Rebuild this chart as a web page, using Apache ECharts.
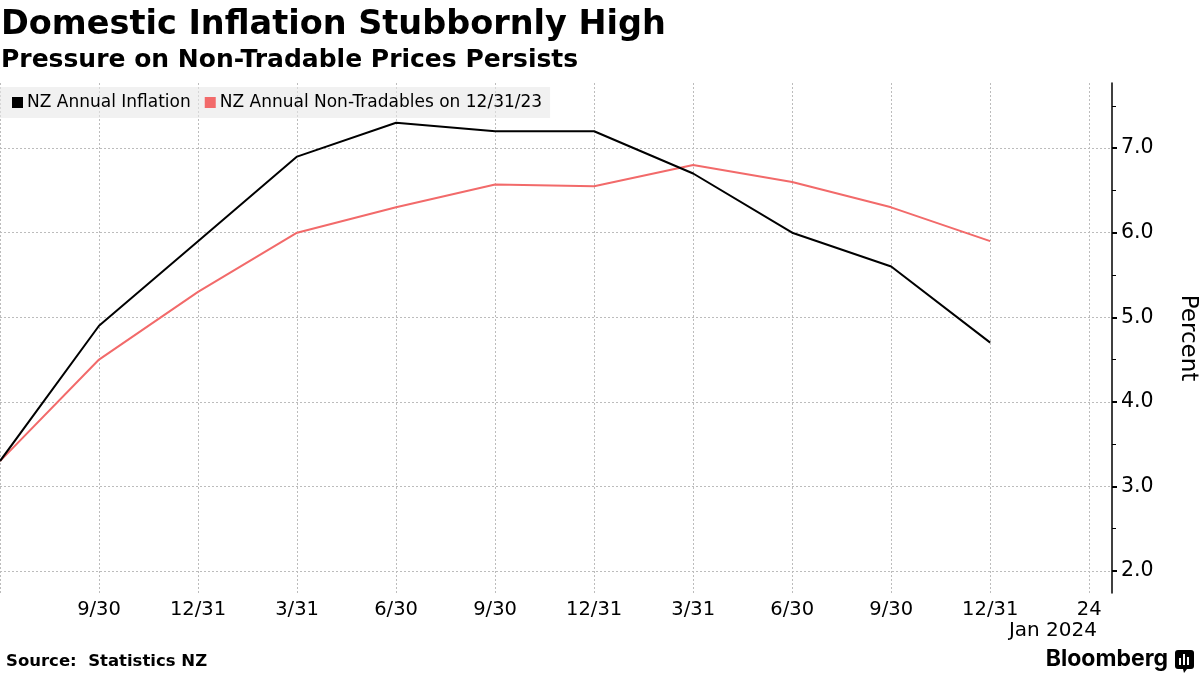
<!DOCTYPE html>
<html><head><meta charset="utf-8">
<script src="https://cdn.jsdelivr.net/npm/echarts@6/dist/echarts.min.js"></script>
<style>html,body{margin:0;padding:0;background:#fff}#c{width:1200px;height:675px}</style>
</head><body><div id="c"></div>
<script>
// Quarter index: 0 = 2021-06-30 ... 10 = 2023-12-31, 11 = 2024-03-31
const quarterIndex = [0, 1, 2, 3, 4, 5, 6, 7, 8, 9, 10];
const inflation = [3.3, 4.9, 5.9, 6.9, 7.3, 7.2, 7.2, 6.7, 6.0, 5.6, 4.7];
const nonTradables = [3.3, 4.5, 5.3, 6.0, 6.3, 6.57, 6.55, 6.8, 6.6, 6.3, 5.9];
const xTickValues = [1, 2, 3, 4, 5, 6, 7, 8, 9, 10, 11];
const xTickLabels = ['9/30', '12/31', '3/31', '6/30', '9/30', '12/31', '3/31', '6/30', '9/30', '12/31', '24'];
const xGridValues = [0, 1, 2, 3, 4, 5, 6, 7, 8, 9, 10, 11];
const yTickValues = [2, 3, 4, 5, 6, 7];
const yMinorTickValues = [2.5, 3.5, 4.5, 5.5, 6.5, 7.5];
const seriesNames = ['NZ Annual Inflation', 'NZ Annual Non-Tradables on 12/31/23'];

const FONT = 'DejaVu Sans';
const grid = '#bcbcbc';
const chart = echarts.init(document.getElementById('c'), null, {renderer: 'canvas'});
chart.setOption({
  animation: false,
  backgroundColor: '#fff',
  textStyle: {fontFamily: FONT, color: '#000'},
  title: [
    {text: 'Domestic Inflation Stubbornly High', left: 1, top: 8, padding: 0,
     textStyle: {fontFamily: FONT, fontSize: 33.5, fontWeight: 'bold', color: '#000'}},
    {text: 'Pressure on Non-Tradable Prices Persists', left: 1, top: 48, padding: 0,
     textStyle: {fontFamily: FONT, fontSize: 25, fontWeight: 'bold', color: '#000'}},
    {text: 'Source:  Statistics NZ', left: 6, top: 653, padding: 0,
     textStyle: {fontFamily: FONT, fontSize: 16.5, fontWeight: 'bold', color: '#000'}}
  ],
  legend: {
    left: 0, top: 87, orient: 'horizontal',
    backgroundColor: 'rgba(232,232,232,0.6)',
    padding: [7, 8, 7, 12],
    itemGap: 14, itemWidth: 11, itemHeight: 11, icon: 'rect',
    textStyle: {fontFamily: FONT, fontSize: 17, color: '#000', padding: [0, 0, 0, -1]},
    data: seriesNames
  },
  grid: {left: 0, right: 88, top: 83, bottom: 82, containLabel: false, outerBoundsMode: 'none'},
  xAxis: {
    type: 'value', min: 0, max: 11.23,
    axisLine: {show: false},
    axisTick: {show: false, customValues: xGridValues},
    axisLabel: {customValues: xTickValues, formatter: v => xTickLabels[Math.round(v) - 1] || '',
                fontFamily: FONT, fontSize: 19.5, color: '#000', margin: 7},
    splitLine: {show: true, lineStyle: {type: [2, 2], color: grid, width: 1}}
  },
  yAxis: [
    {
      type: 'value', position: 'right', min: 1.74, max: 7.77,
      axisLine: {show: true, onZero: false, lineStyle: {color: '#000', width: 1.5}},
      axisTick: {show: true, customValues: yTickValues, length: 5, lineStyle: {color: '#000', width: 2}},
      axisLabel: {customValues: yTickValues, formatter: v => v.toFixed(1),
                  fontFamily: FONT, fontSize: 20.5, color: '#000', margin: 9},
      splitLine: {show: true, lineStyle: {type: [2, 2], color: grid, width: 1}},
      name: 'Percent', nameLocation: 'middle', nameRotate: -90, nameGap: 64,
      nameTextStyle: {fontFamily: FONT, fontSize: 23, color: '#000'}
    },
    {
      type: 'value', position: 'right', min: 1.74, max: 7.77,
      axisLine: {show: false, onZero: false},
      axisTick: {show: true, customValues: yMinorTickValues, length: 4, lineStyle: {color: '#000', width: 1}},
      axisLabel: {show: false},
      splitLine: {show: false}
    }
  ],
  series: [
    {name: seriesNames[0], type: 'line', yAxisIndex: 0, showSymbol: false, symbol: 'none',
     data: quarterIndex.map((q, i) => [q, inflation[i]]),
     lineStyle: {color: '#000', width: 2}, itemStyle: {color: '#000'}, z: 3},
    {name: seriesNames[1], type: 'line', yAxisIndex: 0, showSymbol: false, symbol: 'none',
     data: quarterIndex.map((q, i) => [q, nonTradables[i]]),
     lineStyle: {color: '#f26a6a', width: 2}, itemStyle: {color: '#f26a6a'}, z: 2}
  ],
  graphic: [
    {type: 'text', right: 103, top: 621,
     style: {text: 'Jan 2024', font: '20px "DejaVu Sans"', fill: '#000'}},
    {type: 'text', right: 32, top: 648,
     style: {text: 'Bloomberg', font: 'bold 23px "Inter"', fill: '#000'}},
    {type: 'group', right: 6, top: 650, children: [
      {type: 'rect', shape: {x: 0, y: 0, width: 19, height: 19, r: 3}, style: {fill: '#000'}},
      {type: 'rect', shape: {x: 4, y: 8, width: 2, height: 7}, style: {fill: '#fff'}},
      {type: 'rect', shape: {x: 8, y: 4, width: 2, height: 11}, style: {fill: '#fff'}},
      {type: 'rect', shape: {x: 12, y: 7, width: 2, height: 8}, style: {fill: '#fff'}},
      {type: 'polygon', shape: {points: [[8, 19], [12, 19], [9, 23]]}, style: {fill: '#000'}}
    ]}
  ]
});
</script></body></html>
